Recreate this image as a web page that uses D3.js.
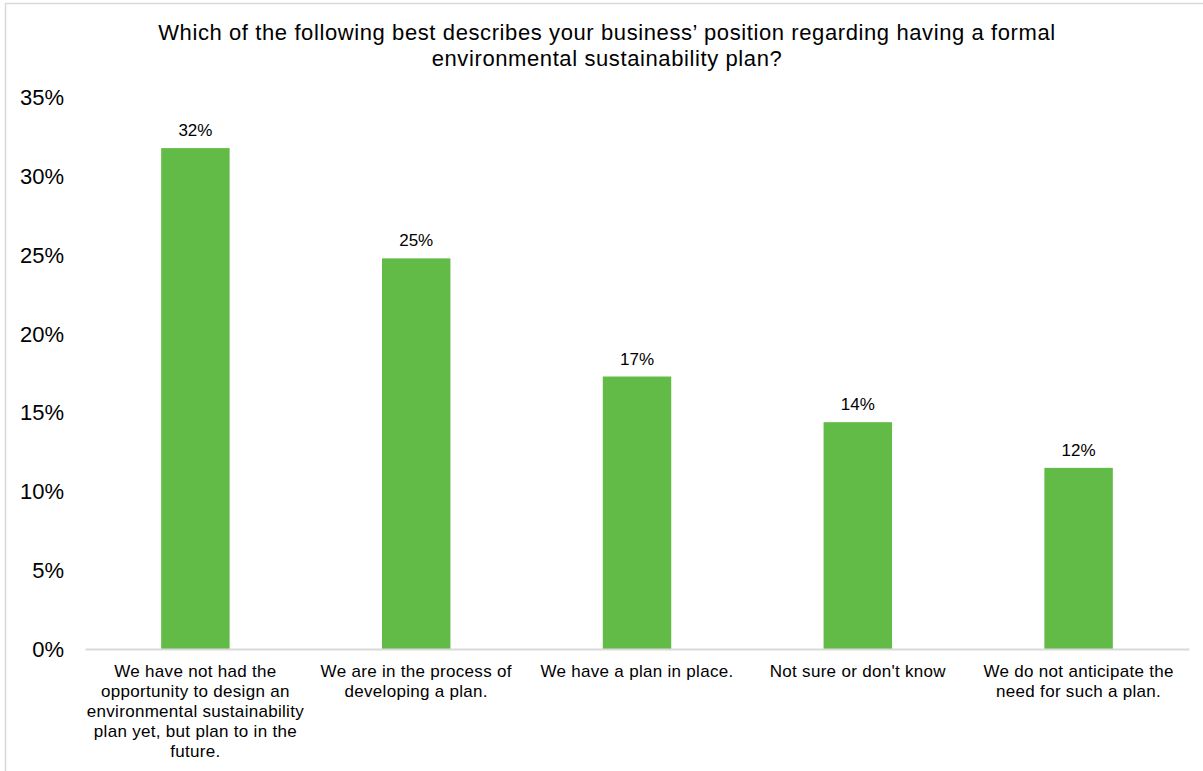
<!DOCTYPE html>
<html>
<head>
<meta charset="utf-8">
<script src="https://cdn.jsdelivr.net/npm/d3@7"></script>
<style>
  html, body { margin: 0; padding: 0; background: #fff; }
  svg { display: block; font-family: "Liberation Sans", Arial, Helvetica, sans-serif; }
</style>
</head>
<body>
<svg id="chart" width="1203" height="771"></svg>
<script>
const titleLines = [
  "Which of the following best describes your business’ position regarding having a formal",
  "environmental sustainability plan?"
];
const categories = [
  "We have not had the opportunity to design an environmental sustainability plan yet, but plan to in the future.",
  "We are in the process of developing a plan.",
  "We have a plan in place.",
  "Not sure or don't know",
  "We do not anticipate the need for such a plan."
];
const values = [31.8, 24.8, 17.3, 14.4, 11.5];
const yTicks = [0, 5, 10, 15, 20, 25, 30, 35];

const W = 1203, H = 771;
const svg = d3.select("#chart");

// chart border
svg.append("rect")
  .attr("x", 5.5).attr("y", 3.5)
  .attr("width", W + 10).attr("height", H + 10)
  .attr("fill", "#fff").attr("stroke", "#d9d9d9").attr("stroke-width", 1.5);

const x = d3.scaleBand()
  .domain(categories)
  .range([85, 1189])
  .paddingInner(0.69)
  .paddingOuter(0.345);

const y = d3.scaleLinear().domain([0, 35]).range([649, 97.7]);

// title
svg.append("g").selectAll("text")
  .data(titleLines).join("text")
  .attr("x", 607).attr("y", (d, i) => 40 + i * 26)
  .attr("text-anchor", "middle")
  .attr("font-size", 22)
  .attr("letter-spacing", 0.6)
  .attr("fill", "#000")
  .text(d => d);

// y axis (labels only)
const yAxis = d3.axisLeft(y).tickValues(yTicks).tickSize(0).tickPadding(0)
  .tickFormat(d => d + "%");
const gy = svg.append("g").attr("transform", "translate(64,0)").call(yAxis);
gy.select(".domain").remove();
gy.selectAll("text")
  .attr("font-size", 22)
  .attr("font-family", "\"Liberation Sans\", Arial, Helvetica, sans-serif")
  .attr("fill", "#000");

// bars
svg.append("g").selectAll("rect")
  .data(values).join("rect")
  .attr("x", (d, i) => x(categories[i]))
  .attr("y", d => y(d))
  .attr("width", x.bandwidth())
  .attr("height", d => y(0) - y(d))
  .attr("fill", "#62bb46");

// data labels
svg.append("g").selectAll("text")
  .data(values).join("text")
  .attr("x", (d, i) => x(categories[i]) + x.bandwidth() / 2)
  .attr("y", d => y(d) - 12)
  .attr("text-anchor", "middle")
  .attr("font-size", 17)
  .attr("fill", "#000")
  .text(d => Math.round(d) + "%");

// x axis
const xAxis = d3.axisBottom(x).tickSize(0).tickPadding(0);
const gx = svg.append("g").attr("transform", `translate(0,${y(0)})`).call(xAxis);
gx.select(".domain").attr("stroke", "#d9d9d9").attr("stroke-width", 2);
gx.selectAll(".tick text").each(function(d) {
  const t = d3.select(this);
  t.text(null)
    .attr("font-size", 17)
    .attr("letter-spacing", 0.3)
    .attr("font-family", "\"Liberation Sans\", Arial, Helvetica, sans-serif")
    .attr("fill", "#000")
    .attr("y", 0).attr("dy", null);
  const words = d.split(/\s+/);
  const maxW = 224;
  let lines = [], cur = [];
  const probe = t.append("tspan");
  words.forEach(w => {
    const test = cur.concat([w]).join(" ");
    probe.text(test);
    if (probe.node().getComputedTextLength() > maxW && cur.length) {
      lines.push(cur.join(" "));
      cur = [w];
    } else {
      cur.push(w);
    }
  });
  if (cur.length) lines.push(cur.join(" "));
  probe.remove();
  lines.forEach((ln, i) => {
    t.append("tspan").attr("x", 0).attr("y", 28 + i * 20).text(ln);
  });
});
</script>
</body>
</html>
